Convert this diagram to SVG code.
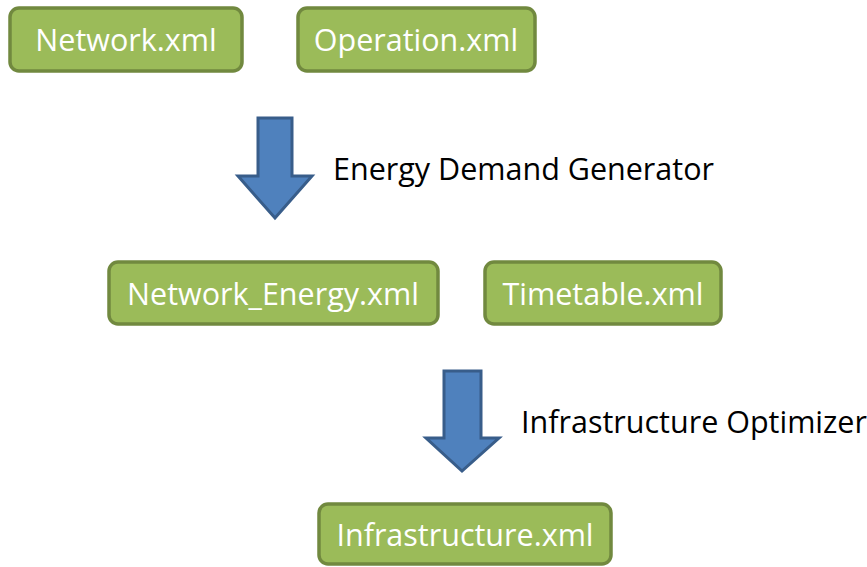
<svg xmlns="http://www.w3.org/2000/svg" width="867" height="567" viewBox="0 0 867 567">
<style>
.box{fill:#9BBB59;stroke:#71893F;stroke-width:3.5}
.lbl{font-family:"Open Sans","Liberation Sans",sans-serif;font-size:30.5px;fill:#FFFFFF;text-anchor:middle}
.cap{font-family:"Open Sans","Liberation Sans",sans-serif;font-size:30.5px;fill:#000000}
.arr{fill:#4F81BD;stroke:#385D8A;stroke-width:3;stroke-linejoin:miter}
</style>
<rect width="867" height="567" fill="#FFFFFF"/>
<g id="network">
<rect class="box" x="10" y="8" width="232" height="63" rx="9"/>
<text class="lbl" x="126" y="51">Network.xml</text>
</g>
<g id="operation">
<rect class="box" x="298" y="8" width="237" height="63" rx="9"/>
<text class="lbl" x="416" y="51">Operation.xml</text>
</g>
<g id="network-energy">
<rect class="box" x="109" y="262" width="329" height="62" rx="9"/>
<text class="lbl" x="273" y="305">Network_Energy.xml</text>
</g>
<g id="timetable">
<rect class="box" x="485" y="262" width="236" height="62" rx="9"/>
<text class="lbl" x="603" y="305">Timetable.xml</text>
</g>
<g id="infrastructure">
<rect class="box" x="319" y="504" width="292" height="60" rx="9"/>
<text class="lbl" x="465" y="546">Infrastructure.xml</text>
</g>
<g id="connectors">
<g id="edge1">
<polygon class="arr" points="258,118 292,118 292,176 312,176 275,218 238,176 258,176"/>
<text class="cap" x="333" y="180">Energy Demand Generator</text>
</g>
<g id="edge2">
<polygon class="arr" points="444,371 481,371 481,438 499,438 462,471 426,438 444,438"/>
<text class="cap" x="521" y="433">Infrastructure Optimizer</text>
</g>
</g>
</svg>
